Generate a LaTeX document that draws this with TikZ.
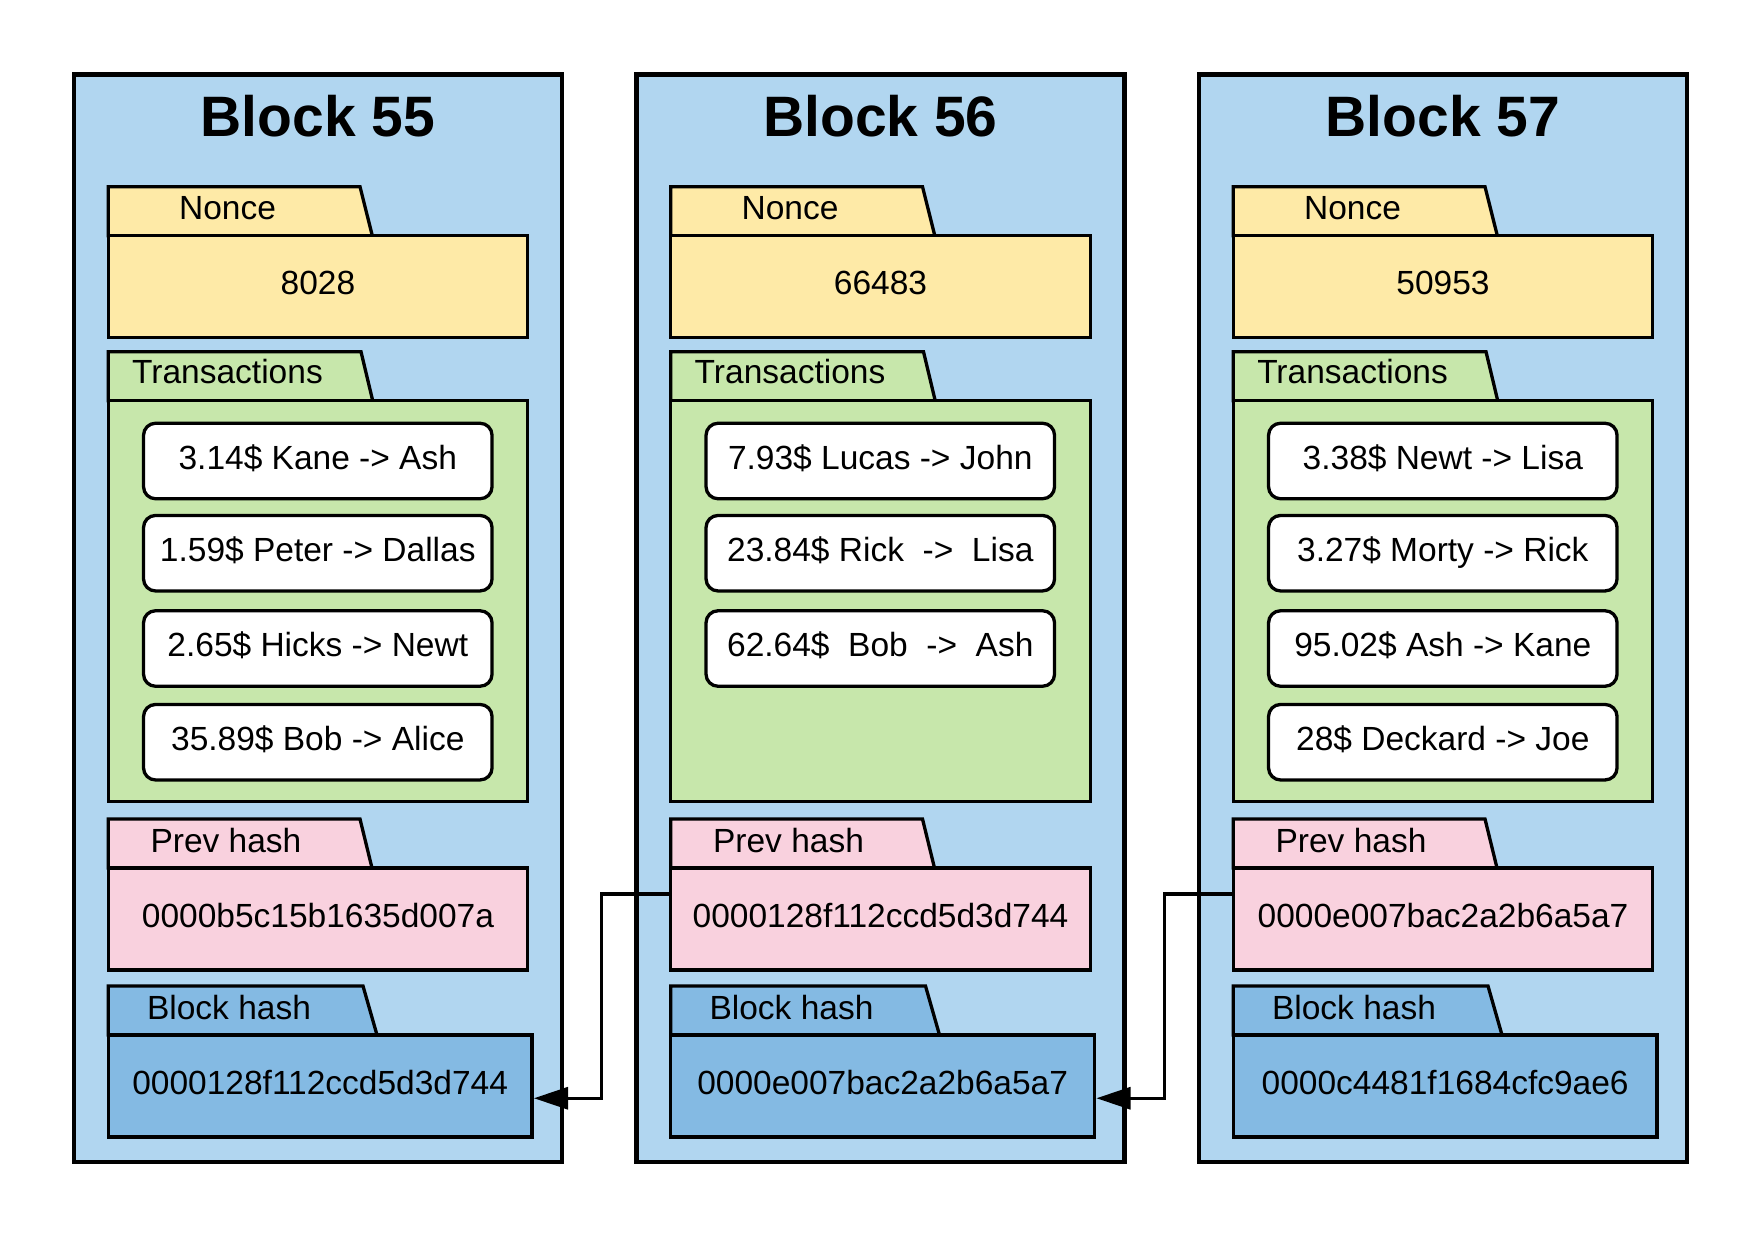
\documentclass[tikz,border=0pt]{standalone}
\usepackage{fontspec}
\setmainfont{Liberation Sans}
\usetikzlibrary{calc,arrows.meta}
\definecolor{blockbg}{HTML}{B1D6F0}
\definecolor{nonceyellow}{HTML}{FEEAA7}
\definecolor{txgreen}{HTML}{C7E7AB}
\definecolor{prevpink}{HTML}{F9D1DE}
\definecolor{hashblue}{HTML}{84BAE3}
\tikzset{
  blockframe/.style={draw=black, line width=4.3pt, fill=blockbg, inner sep=0pt, outer sep=0pt, anchor=north west},
  titletext/.style={font=\fontsize{57}{60}\selectfont\bfseries, anchor=base, inner sep=0pt},
  bodybox/.style={draw=black, line width=3.3pt, inner sep=0pt, outer sep=0pt, anchor=north west,
    font=\fontsize{33.5}{40}\selectfont, text height=24pt, text depth=8pt},
  tabshape/.style={draw=black, line width=3.3pt, line join=miter},
  tablabel/.style={font=\fontsize{33.5}{40}\selectfont, anchor=base, inner sep=0pt},
  txbox/.style={draw=black, line width=3.3pt, fill=white, rounded corners=12pt, inner sep=0pt, outer sep=0pt,
    minimum width=348.5pt, minimum height=75.5pt,
    font=\fontsize{33.5}{40}\selectfont, text height=24pt, text depth=8pt},
  link/.style={draw=black, line width=3.3pt, -{Triangle[length=34pt,width=22pt]}}
}
\newcommand\chainblock[6]{%
\begin{scope}[shift={(#2,0)}]
  \node[blockframe, minimum width=488pt, minimum height=1087.5pt] (#1) at (74,74.5) {};
  \node[titletext] (#1-title) at (318,137) {#3};
  % nonce
  \draw[tabshape, fill=nonceyellow] (108.3,235.7) -- (108.3,186.7) -- (360,186.7) -- (372.3,235.7) -- cycle;
  \node[tablabel] (#1-noncelbl) at (227.5,219.5) {Nonce};
  \node[bodybox, fill=nonceyellow, minimum width=419.4pt, minimum height=101.6pt] (#1-nonce) at (108.3,235.7) {#4};
  % transactions
  \draw[tabshape, fill=txgreen] (108.3,400.7) -- (108.3,351.7) -- (361,351.7) -- (372.7,400.7) -- cycle;
  \node[tablabel] (#1-txlbl) at (227.5,383.5) {Transactions};
  \node[bodybox, fill=txgreen, minimum width=419.4pt, minimum height=401pt] (#1-tx) at (108.3,400.7) {};
  % prev hash
  \draw[tabshape, fill=prevpink] (108.3,868) -- (108.3,819) -- (360,819) -- (372,868) -- cycle;
  \node[tablabel] (#1-prevlbl) at (226,852) {Prev hash};
  \node[bodybox, fill=prevpink, minimum width=419.4pt, minimum height=102pt] (#1-prev) at (108.3,868) {#5};
  % block hash
  \draw[tabshape, fill=hashblue] (108.3,1035) -- (108.3,986) -- (363,986) -- (377,1035) -- cycle;
  \node[tablabel] (#1-hashlbl) at (229,1019) {Block hash};
  \node[bodybox, fill=hashblue, minimum width=423.7pt, minimum height=102pt] (#1-hash) at (108.3,1035) {#6};
\end{scope}}
\begin{document}
\begin{tikzpicture}[x=1pt, y=-1pt]
  \useasboundingbox (0,0) rectangle (1763,1238);
  \fill[white] (0,0) rectangle (1763,1238);

  \chainblock{b55}{0}{Block 55}{8028}{0000b5c15b1635d007a}{0000128f112ccd5d3d744}
  \chainblock{b56}{562.5}{Block 56}{66483}{0000128f112ccd5d3d744}{0000e007bac2a2b6a5a7}
  \chainblock{b57}{1125}{Block 57}{50953}{0000e007bac2a2b6a5a7}{0000c4481f1684cfc9ae6}

  % Block 55 transactions
  \node[txbox] (b55-t1) at (317.8,461) {3.14\$ Kane -> Ash};
  \node[txbox] (b55-t2) at (317.8,553.2) {1.59\$ Peter -> Dallas};
  \node[txbox] (b55-t3) at (317.8,648.5) {2.65\$ Hicks -> Newt};
  \node[txbox] (b55-t4) at (317.8,742.2) {35.89\$ Bob -> Alice};

  % Block 56 transactions
  \node[txbox] (b56-t1) at (880.3,461) {7.93\$ Lucas -> John};
  \node[txbox] (b56-t2) at (880.3,553.2) {23.84\$ Rick\ \ ->\ \ Lisa};
  \node[txbox] (b56-t3) at (880.3,648.5) {62.64\$\ \ Bob\ \ ->\ \ Ash};

  % Block 57 transactions
  \node[txbox] (b57-t1) at (1442.8,461) {3.38\$ Newt -> Lisa};
  \node[txbox] (b57-t2) at (1442.8,553.2) {3.27\$ Morty -> Rick};
  \node[txbox] (b57-t3) at (1442.8,648.5) {95.02\$ Ash -> Kane};
  \node[txbox] (b57-t4) at (1442.8,742.2) {28\$ Deckard -> Joe};

  % links
  \coordinate (l1s) at ($(b56-prev.north west)!0.255!(b56-prev.south west)$);
  \coordinate (l1e) at ($(b55-hash.north east)!0.62!(b55-hash.south east)+(2,0)$);
  \draw[link] (l1s) -- ++(-69,0) |- (l1e);
  \coordinate (l2s) at ($(b57-prev.north west)!0.255!(b57-prev.south west)$);
  \coordinate (l2e) at ($(b56-hash.north east)!0.62!(b56-hash.south east)+(2,0)$);
  \draw[link] (l2s) -- ++(-69,0) |- (l2e);
\end{tikzpicture}
\end{document}
